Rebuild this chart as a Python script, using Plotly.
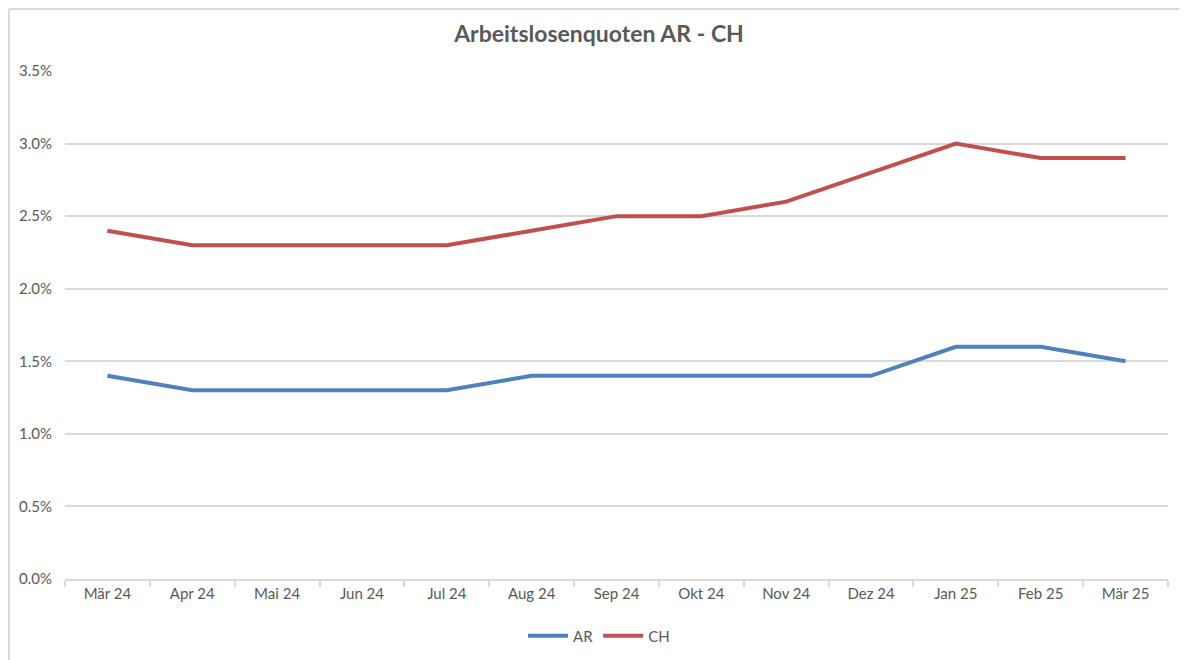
import plotly.graph_objects as go

months = ["Mär 24", "Apr 24", "Mai 24", "Jun 24", "Jul 24", "Aug 24", "Sep 24",
          "Okt 24", "Nov 24", "Dez 24", "Jan 25", "Feb 25", "Mär 25"]
ar = [1.4, 1.3, 1.3, 1.3, 1.3, 1.4, 1.4, 1.4, 1.4, 1.4, 1.6, 1.6, 1.5]
ch = [2.4, 2.3, 2.3, 2.3, 2.3, 2.4, 2.5, 2.5, 2.6, 2.8, 3.0, 2.9, 2.9]
y_ticks = [0.0, 0.5, 1.0, 1.5, 2.0, 2.5, 3.0, 3.5]

OFF = 8  # page body margin
W, H = 1187 - OFF, 660 - OFF
L, T = 65 - OFF, 71 - OFF
pw, ph = 1103, 508
R, B = W - L - pw, H - T - ph

fig = go.Figure()
fig.add_trace(go.Scatter(x=months, y=ar, name="AR", mode="lines",
                         line=dict(color="#4F81BD", width=4)))
fig.add_trace(go.Scatter(x=months, y=ch, name="CH", mode="lines",
                         line=dict(color="#C0504D", width=4)))

font_family = "Lato, 'Open Sans', sans-serif"
fig.update_layout(
    width=W, height=H,
    margin=dict(l=L, r=R, t=T, b=B, autoexpand=False),
    paper_bgcolor="white", plot_bgcolor="white",
    font=dict(family=font_family, color="#595959", size=15),
    title=dict(text="<b>Arbeitslosenquoten AR - CH</b>", x=(599 - OFF) / W, xanchor="center",
               y=1 - (34 - OFF) / H, yanchor="middle",
               font=dict(size=23, color="#595959", family=font_family)),
    showlegend=True,
    legend=dict(orientation="h", x=(599 - 65) / pw, xanchor="center", y=-(636 - 579) / ph,
                yanchor="middle", font=dict(size=15, color="#595959"),
                itemwidth=40, tracegroupgap=0),
    xaxis=dict(type="category", range=[-0.5, 12.5], showgrid=False, automargin=False,
               showline=True, linecolor="#D9D9D9", linewidth=1.5,
               ticks="outside", tickson="boundaries", ticklen=6,
               tickcolor="#D9D9D9", tickwidth=1.5,
               tickfont=dict(size=15, color="#595959")),
    yaxis=dict(range=[0, 3.5], tickvals=y_ticks, automargin=False,
               ticktext=[f"{v:.1f}%" for v in y_ticks],
               showgrid=True, gridcolor="#D9D9D9", gridwidth=1.5,
               zeroline=False, showline=False, ticks="",
               ticklabelstandoff=12,
               tickfont=dict(size=15, color="#595959")),
)

# chart border (top and left edges visible in the reference)
x_left = -(L - 1) / pw
y_top = 1 + (T - 1) / ph
fig.add_shape(type="line", xref="paper", yref="paper",
              x0=x_left, x1=1 + R / pw, y0=y_top, y1=y_top,
              line=dict(color="#D9D9D9", width=2), layer="below")
fig.add_shape(type="line", xref="paper", yref="paper",
              x0=x_left, x1=x_left, y0=-B / ph, y1=y_top,
              line=dict(color="#D9D9D9", width=2), layer="below")

fig.write_html("out.html")
